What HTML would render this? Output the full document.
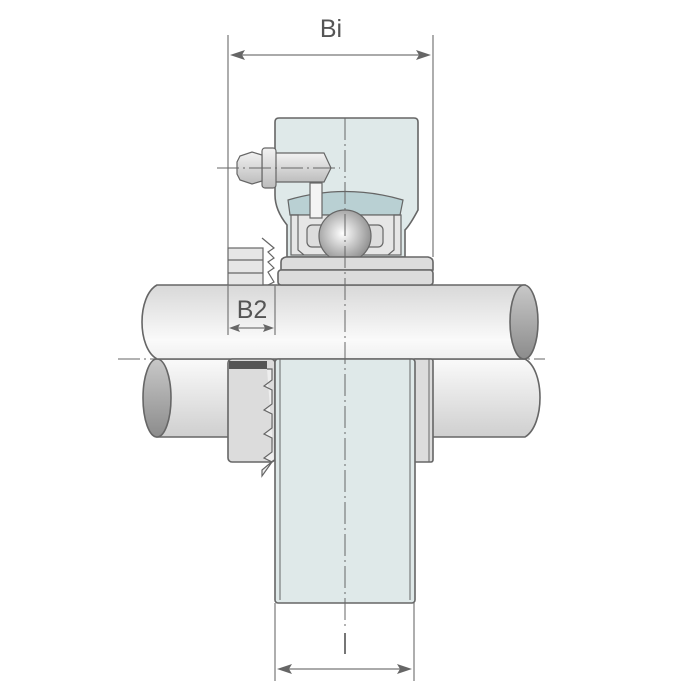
<!DOCTYPE html>
<html><head><meta charset="utf-8"><style>html,body{margin:0;padding:0;background:#fff}svg{display:block}</style></head>
<body>
<svg width="700" height="700" viewBox="0 0 700 700" xmlns="http://www.w3.org/2000/svg">
<defs>
<linearGradient id="sh" x1="0" y1="0" x2="0" y2="1"><stop offset="0" stop-color="#d8d8d8"/><stop offset="0.75" stop-color="#fafafa"/><stop offset="1" stop-color="#f0f0f0"/></linearGradient>
<linearGradient id="sh2" x1="0" y1="0" x2="0" y2="1"><stop offset="0" stop-color="#fafafa"/><stop offset="1" stop-color="#cfcfcf"/></linearGradient>
<linearGradient id="end" x1="0" y1="0" x2="0" y2="1"><stop offset="0" stop-color="#c8c8c8"/><stop offset="1" stop-color="#8c8c8c"/></linearGradient>
<radialGradient id="ball" cx="0.45" cy="0.45" r="0.6"><stop offset="0" stop-color="#fff"/><stop offset="1" stop-color="#8a8a8a"/></radialGradient>
<linearGradient id="cyl" x1="0" y1="0" x2="0" y2="1"><stop offset="0" stop-color="#f2f2f2"/><stop offset="1" stop-color="#bdbdbd"/></linearGradient>
</defs>
<g stroke="#666" stroke-width="1.6" fill="none">
<!-- lower shaft -->
<path d="M157,359 L525,359 C545,370 545,425 525,437 L157,437 Z" fill="url(#sh2)"/>
<ellipse cx="157" cy="398" rx="14" ry="39" fill="url(#end)"/>
<!-- upper shaft -->
<path d="M157,285 L525,285 L525,359 L157,359 C137,348 137,296 157,285 Z" fill="url(#sh)"/>
<ellipse cx="524" cy="322" rx="14" ry="37" fill="url(#end)"/>
<!-- lower sleeve parts -->
<rect x="228" y="359" width="47" height="103" rx="4" fill="#dcdcdc"/>
<rect x="229" y="361" width="38" height="8" fill="#555" stroke="none"/>
<path d="M267,369 L272,369 L272,380 L264,386 L272,390 L272,404 L264,410 L272,414 L272,428 L264,434 L272,438 L272,452 L264,458 L272,462 L262,476 L262,470 L274,460" fill="#eee" stroke-width="1.2"/>
<rect x="413" y="359" width="20" height="103" rx="2" fill="#dcdcdc"/>
<line x1="429" y1="359" x2="429" y2="462" stroke-width="1"/>
<rect x="275" y="359" width="140" height="244" rx="3" fill="#dfe9e9"/>
<line x1="280" y1="359" x2="280" y2="600" stroke-width="1"/><line x1="410" y1="359" x2="410" y2="600" stroke-width="1"/>
<!-- upper housing -->
<path d="M279,118 L414,118 Q418,118 418,122 L418,210 Q410,225 405,230 L405,257 L287,257 L287,225 Q275,210 275,195 L275,122 Q275,118 279,118 Z" fill="#dfe9e9"/>
<path d="M288,200 Q345,183 403,200 L400,215 L290,215 Z" fill="#b9d0d3" stroke-width="1.2"/>
<rect x="291" y="215" width="110" height="40" fill="#e6e6e6" stroke-width="1.2"/>
<path d="M291,215 L298,215 L298,250 L304,255 M401,215 L394,215 L394,250 L388,255" stroke-width="1.2"/>
<rect x="307" y="225" width="20" height="22" rx="5" fill="#ddd" stroke-width="1.2"/>
<rect x="363" y="225" width="20" height="22" rx="5" fill="#ddd" stroke-width="1.2"/>
<circle cx="345" cy="236" r="26" fill="url(#ball)" stroke-width="1.2"/>
<path d="M281,262 Q281,258 286,257 L428,257 Q433,258 433,262 L433,270 L281,270 Z" fill="#dcdcdc"/>
<rect x="278" y="270" width="155" height="15" rx="3" fill="#dcdcdc"/>
<!-- left collar upper -->
<rect x="228" y="248" width="35" height="37" fill="#e6e6e6" stroke-width="1.2"/>
<line x1="228" y1="260" x2="263" y2="260" stroke-width="1.2"/><line x1="228" y1="273" x2="263" y2="273" stroke-width="1.2"/>
<path d="M262,238 L274,248 L268,252 L274,258 L268,262 L274,268 L268,272 L274,282 L268,285" fill="none" stroke-width="1.2"/>
<!-- grease nipple -->
<rect x="310" y="183" width="12" height="35" fill="#f4f4f4" stroke-width="1.2"/>
<path d="M274,153 L324,153 L331,168 L324,182 L274,182 Z" fill="url(#cyl)" stroke-width="1.2"/>
<rect x="262" y="148" width="14" height="40" rx="3" fill="url(#cyl)" stroke-width="1.2"/>
<path d="M262,155 L252,152 L240,156 L237,162 L237,174 L240,180 L252,184 L262,181 Z" fill="url(#cyl)" stroke-width="1.2"/>
</g>
<!-- dimension lines -->
<g stroke="#777" stroke-width="1.2">
<line x1="228" y1="35" x2="228" y2="248"/><line x1="433" y1="35" x2="433" y2="257"/>
<line x1="238" y1="55" x2="423" y2="55"/>
<line x1="275" y1="603" x2="275" y2="681"/><line x1="414" y1="603" x2="414" y2="681"/>
<line x1="285" y1="669" x2="404" y2="669"/>
<line x1="228" y1="285" x2="228" y2="335"/><line x1="275" y1="285" x2="275" y2="335"/>
<line x1="236" y1="328" x2="267" y2="328"/>
</g>
<g fill="#666" stroke="none">
<polygon points="230,55 245,50 242,55 245,60"/><polygon points="431,55 416,50 419,55 416,60"/>
<polygon points="277,669 292,664 289,669 292,674"/><polygon points="412,669 397,664 400,669 397,674"/>
<polygon points="229,328 240,324 238,328 240,332"/><polygon points="274,328 263,324 265,328 263,332"/>
</g>
<!-- center lines -->
<g stroke="#666" stroke-width="1" fill="none" stroke-dasharray="22,4,2,4">
<line x1="345" y1="118" x2="345" y2="628"/>
<line x1="118" y1="359" x2="545" y2="359"/>
<line x1="217" y1="168" x2="340" y2="168"/>
</g>
<line x1="345" y1="633" x2="345" y2="654" stroke="#666" stroke-width="1.8"/>
<g font-family="Liberation Sans, sans-serif" fill="#555" font-size="25" text-anchor="middle">
<text x="331" y="37">Bi</text>
<text x="252" y="318">B2</text>
</g>
</svg>
</body></html>
